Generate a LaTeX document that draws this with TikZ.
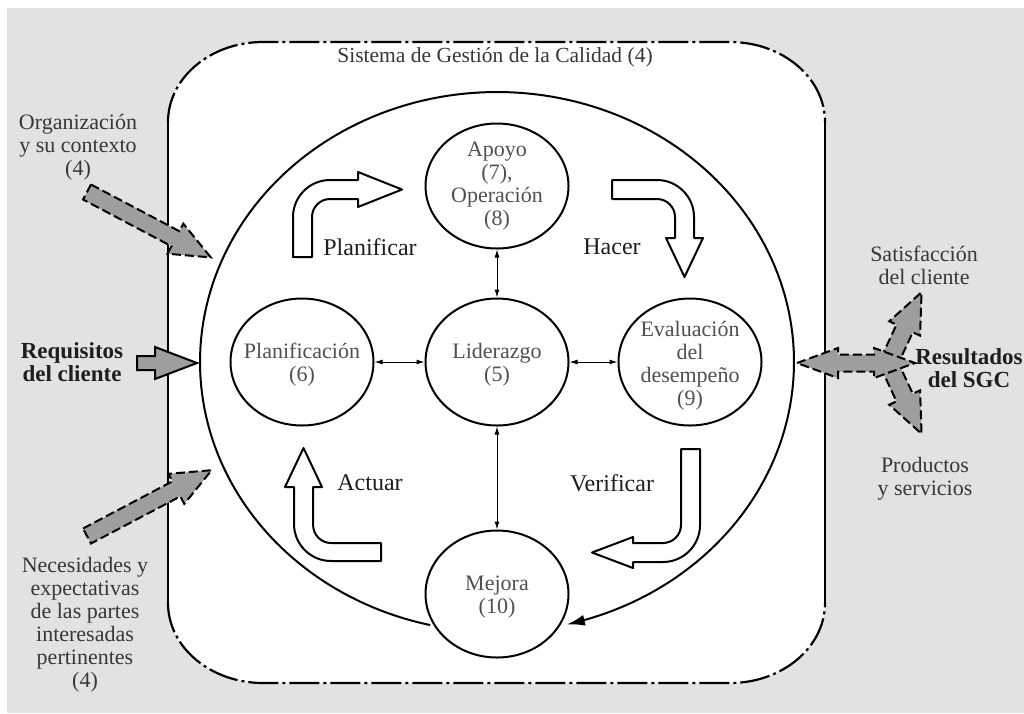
\documentclass[tikz,border=0pt]{standalone}
\usepackage{fontspec}
\setmainfont{Liberation Serif}
\usetikzlibrary{arrows.meta,shapes.geometric}
\definecolor{bg}{RGB}{226,226,228}
\definecolor{arrowgray}{RGB}{158,158,160}
\definecolor{txt}{RGB}{55,55,55}
\definecolor{ctxt}{RGB}{80,80,80}
\definecolor{ptxt}{RGB}{30,30,30}
\tikzset{
  lbl/.style={font=\fontsize{22}{23}\selectfont, text=txt, align=center, inner sep=0pt},
  blbl/.style={font=\fontsize{23}{23}\selectfont\bfseries, text=ptxt, align=center, inner sep=0pt},
  phase/.style={font=\fontsize{24}{24}\selectfont, text=ptxt, inner sep=0pt},
  ctext/.style={lbl, text=ctxt},
  circ/.style={ellipse, draw=black, line width=2pt, fill=white, minimum width=143pt, minimum height=127pt, inner sep=0pt},
  dbl/.style={line width=1pt, {Latex[length=8pt,width=5pt]}-{Latex[length=8pt,width=5pt]}},
  outarrow/.style={draw=black, line width=2pt, fill=white, line join=round},
  garrow/.style={draw=black, line width=2pt, fill=arrowgray, dash pattern=on 9pt off 4pt},
  garrowsolid/.style={draw=black, line width=2pt, fill=arrowgray},
  boxline/.style={line width=2.2pt},
  boxdash/.style={line width=2.2pt, dash pattern=on 30pt off 4pt on 3pt off 4pt},
  pics/barrow/.style n args={5}{code={
    \path[#5] (0,-#2) -- ({#1-#4},-#2) -- ({#1-#4},-#3) -- (#1,0) -- ({#1-#4},#3) -- ({#1-#4},#2) -- (0,#2) -- cycle;
  }},
  pics/dblarrow/.style n args={4}{code={
    \path[garrow] (0,0) -- (#4,-#3) -- (#4,-#2) -- ({#1-#4},-#2) -- ({#1-#4},-#3) -- (#1,0) -- ({#1-#4},#3) -- ({#1-#4},#2) -- (#4,#2) -- (#4,#3) -- cycle;
  }},
}
\begin{document}
\begin{tikzpicture}[x=1pt,y=-1pt]
\useasboundingbox (0,0) rectangle (1024,713);
\fill[white] (0,0) rectangle (1024,713);
\fill[bg] (7,8) rectangle (1024,713);
% outer system box
\fill[white] (168,122) .. controls (168,77.8) and (210.6,42) .. (263,42) -- (730,42) .. controls (782.4,42) and (825,77.8) .. (825,122) -- (825,603) .. controls (825,647.2) and (782.4,683) .. (730,683) -- (263,683) .. controls (210.6,683) and (168,647.2) .. (168,603) -- cycle;
\draw[boxdash] (168,122) .. controls (168,77.8) and (210.6,42) .. (263,42) -- (730,42) .. controls (782.4,42) and (825,77.8) .. (825,122);
\draw[boxdash] (168,603) .. controls (168,647.2) and (210.6,683) .. (263,683) -- (730,683) .. controls (782.4,683) and (825,647.2) .. (825,603);
\draw[boxline] (168,122) -- (168,603);
\draw[boxline] (825,122) -- (825,603);
\node[lbl, font=\fontsize{21.5}{23}\selectfont] (title) at (495,57) {Sistema de Gestión de la Calidad (4)};
% big cycle
\draw[line width=2pt, -{Latex[length=18pt,width=11pt]}] plot[domain=103:436.4, samples=200] ({497+297*cos(\x)},{362+270*sin(\x)});
% circles
\node[circ, minimum height=125pt] (apoyo) at (497,186) {};
\node[circ] (lid) at (497,362) {};
\node[circ] (plan) at (302,362) {};
\node[circ] (eval) at (690,362) {};
\node[circ] (mejora) at (497,594) {};
\node[ctext] (tapoyo) at (apoyo) {Apoyo\\(7),\\Operación\\(8)};
\node[ctext] (tlid) at ([yshift=-3pt]lid.center) {Liderazgo\\(5)};
\node[ctext] (tplan) at ([yshift=-3pt]plan.center) {Planificación\\(6)};
\node[ctext] (teval) at ([yshift=-4pt]eval.center) {Evaluación\\del\\desempeño\\(9)};
\node[ctext] (tmej) at ([yshift=-3pt]mejora.center) {Mejora\\(10)};
\draw[dbl] (plan) -- (lid);
\draw[dbl] (lid) -- (eval);
\draw[dbl] (apoyo) -- (lid);
\draw[dbl] (lid) -- (mejora);
% PDCA outline arrows
\path[outarrow] (293,257) -- (293,217) .. controls (293,196.6) and (309.6,180) .. (330,180) -- (358,180) -- (358,172) -- (402,189.5) -- (358,207) -- (358,199) -- (330,199) .. controls (320.1,199) and (312,207.1) .. (312,217) -- (312,257) -- cycle;
\path[outarrow] (612,180) -- (657,180) .. controls (677.4,180) and (694,196.6) .. (694,217) -- (694,238) -- (703,238) -- (684.5,277) -- (666,238) -- (675,238) -- (675,217) .. controls (675,207.1) and (666.9,199) .. (657,199) -- (612,199) -- cycle;
\path[outarrow] (681,449) -- (700,449) -- (700,525) .. controls (700,545.4) and (683.4,562) .. (663,562) -- (633,562) -- (633,568) -- (592,552.5) -- (633,537) -- (633,543) -- (663,543) .. controls (672.9,543) and (681,534.9) .. (681,525) -- cycle;
\path[outarrow] (381,543) -- (331,543) .. controls (321,543) and (313,535) .. (313,524) -- (313,487) -- (322,487) -- (303.5,448) -- (285,487) -- (294,487) -- (294,524) .. controls (294,544.4) and (310.6,561) .. (331,561) -- (381,561) -- cycle;
\node[phase] (pplan) at (370,247) {Planificar};
\node[phase] (phacer) at (612,247) {Hacer};
\node[phase] (pact) at (370,483) {Actuar};
\node[phase] (pver) at (612,483) {Verificar};
% inputs
\pic[rotate=-27.85] at (87,192) {barrow={140}{8.5}{17}{40}{garrow}};
\pic at (137,363) {barrow={60}{7}{16}{42}{garrowsolid}};
\pic[rotate=27.83] at (87,536) {barrow={141}{8.5}{17}{40}{garrow}};
\node[lbl] (org) at (78,147) {Organización\\y su contexto\\(4)};
\node[blbl] (req) at (72,362) {Requisitos\\del cliente};
\node[lbl] (nec) at (85,625) {Necesidades y\\expectativas\\de las partes\\interesadas\\pertinentes\\(4)};
% outputs
\pic[rotate=65] at (889,362) {barrow={77}{9}{17}{40}{garrow}};
\pic[rotate=-65] at (889,364) {barrow={77}{9}{17}{40}{garrow}};
\pic at (797,363) {dblarrow={118}{8.5}{15}{41}};
\node[lbl] (sat) at (924,265) {Satisfacción\\del cliente};
\node[blbl] (res) at (969,368) {Resultados\\del SGC};
\node[lbl] (prod) at (925,479) {Productos\\y servicios};
\end{tikzpicture}
\end{document}
